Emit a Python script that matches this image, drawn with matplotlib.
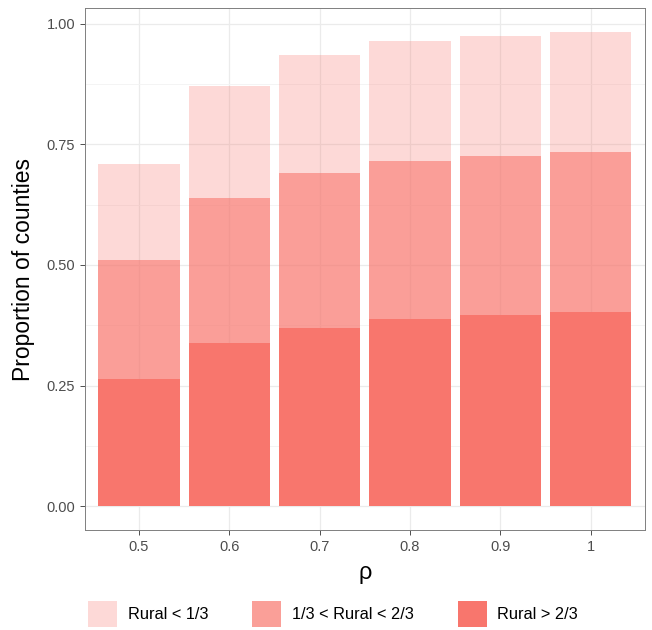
import matplotlib
matplotlib.use("Agg")
import matplotlib.pyplot as plt
from matplotlib.patches import Patch
import numpy as np

# Данные (накопленные доли)
rho_labels = ["0.5", "0.6", "0.7", "0.8", "0.9", "1"]
rural_high = [0.264, 0.339, 0.370, 0.388, 0.397, 0.403]
rural_mid_cum = [0.510, 0.638, 0.690, 0.715, 0.725, 0.733]
rural_low_cum = [0.709, 0.870, 0.934, 0.963, 0.975, 0.983]
legend_labels = ["Rural < 1/3", "1/3 < Rural < 2/3", "Rural > 2/3"]

base = "#F8766D"
alphas = [0.27, 0.70, 1.0]

plt.rcParams['font.family'] = ['Liberation Sans', 'DejaVu Sans']

fig = plt.figure(figsize=(6.52, 6.30), dpi=100)
ax = fig.add_axes([0.130, 0.159, 0.859, 0.828])

x = np.arange(len(rho_labels))
ax.bar(x, rural_low_cum, width=0.9, color=base, alpha=alphas[0], linewidth=0, zorder=2)
ax.bar(x, rural_mid_cum, width=0.9, color=base, alpha=alphas[1] - alphas[0] * 0.4, linewidth=0, zorder=3)
ax.bar(x, rural_high, width=0.9, color=base, alpha=alphas[2], linewidth=0, zorder=4)

ax.set_xlim(-0.6, 5.6)
ax.set_ylim(-0.049, 1.032)
ax.set_xticks(x)
ax.set_xticklabels(rho_labels)
ax.set_yticks([0, 0.25, 0.5, 0.75, 1.0])
ax.set_yticklabels(["0.00", "0.25", "0.50", "0.75", "1.00"])
ax.set_yticks([0.125, 0.375, 0.625, 0.875], minor=True)

ax.grid(True, which='major', color='#EBEBEB', linewidth=0.9, zorder=0)
ax.grid(True, which='minor', axis='y', color='#F3F3F3', linewidth=0.6, zorder=0)
ax.set_axisbelow(True)
ax.tick_params(which='major', length=3.5, width=0.6, color='#333333', labelcolor='#4D4D4D', labelsize=10.5)
ax.tick_params(which='minor', length=0)
for s in ax.spines.values():
    s.set_color('#7F7F7F')
    s.set_linewidth(0.7)

ax.set_xlabel('ρ', fontsize=17, labelpad=6)
ax.set_ylabel('Proportion of counties', fontsize=16.5, labelpad=8)

handles = [Patch(facecolor=base, alpha=a, linewidth=0) for a in alphas]
fig.legend(handles, legend_labels, loc='lower center', bbox_to_anchor=(0.511, 0.0), ncol=3,
           frameon=False, fontsize=11.8, handlelength=1.75, handleheight=2.0,
           handletextpad=0.65, columnspacing=2.7, borderaxespad=0.1, borderpad=0.1)

fig.savefig("out.png", dpi=100)
